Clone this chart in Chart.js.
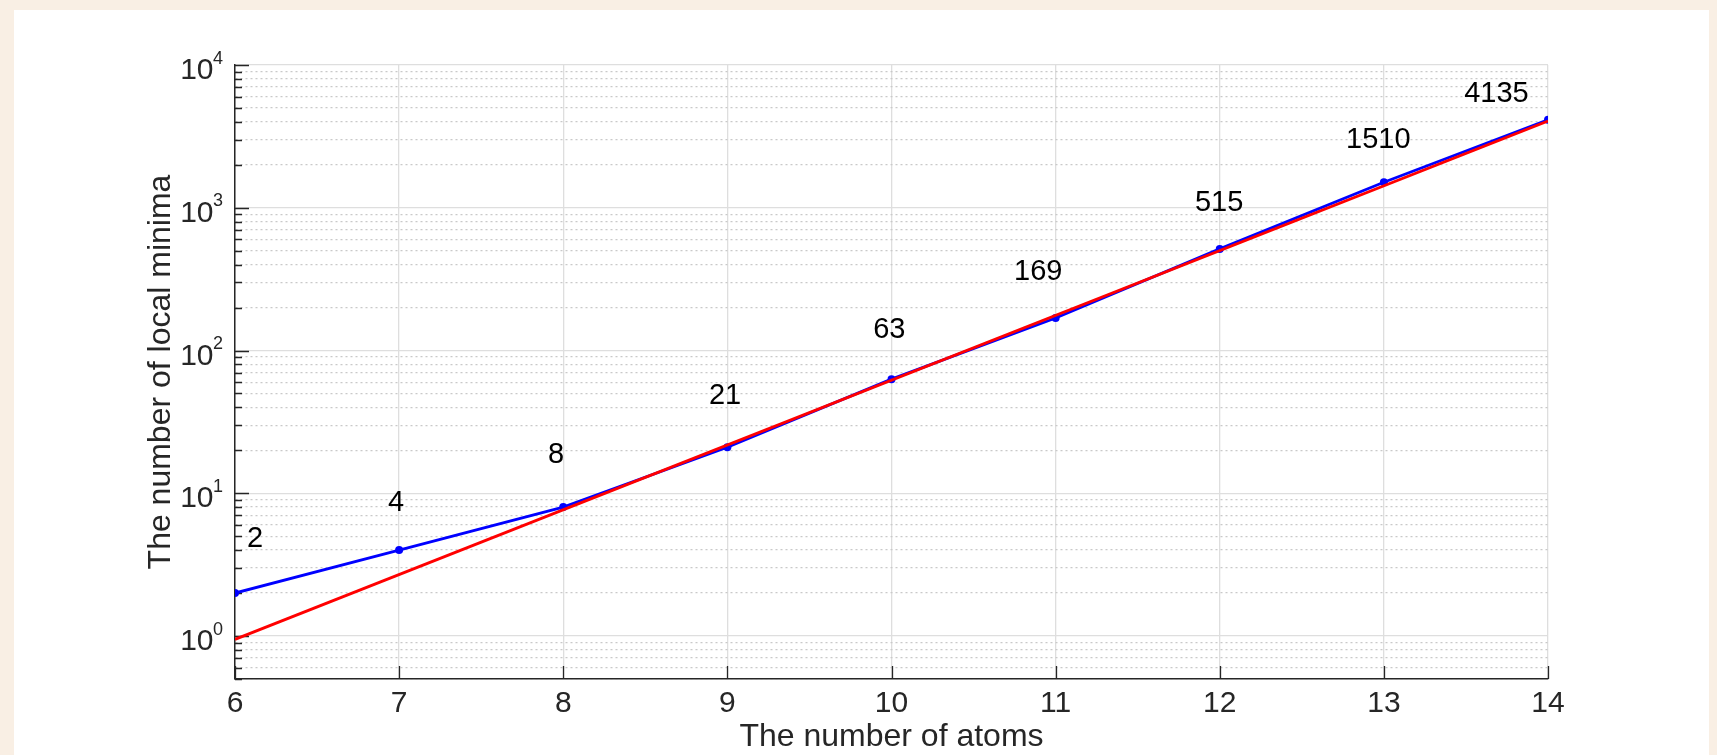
<!DOCTYPE html>
<html>
<head>
<meta charset="utf-8">
<script src="https://cdn.jsdelivr.net/npm/chart.js@4.4.1/dist/chart.umd.min.js"></script>
<style>
  html, body { margin: 0; padding: 0; background: #f9efe4; overflow: hidden; }
  #wrap { width: 1717px; height: 755px; }
</style>
</head>
<body>
<div id="wrap"><canvas id="chart" width="1717" height="755"></canvas></div>
<script>
// measured data (blue) and exponential fit (red)
const atoms = [6, 7, 8, 9, 10, 11, 12, 13, 14];
const minima = [2, 4, 8, 21, 63, 169, 515, 1510, 4135];
const fitX = [6, 14];
const fitY = [0.948, 4050];

// axis ticks
const xTicks = [6, 7, 8, 9, 10, 11, 12, 13, 14];
const yDecades = [0, 1, 2, 3, 4];
const yMantissas = [1, 2, 3, 4, 5, 6, 7, 8, 9];

// value labels, placed in data coordinates
const labelText = ['2', '4', '8', '21', '63', '169', '515', '1510', '4135'];
const labelX = [6.122, 6.982, 7.956, 8.986, 9.987, 10.894, 11.996, 12.966, 13.686];
const labelY = [4.77, 8.5, 18.6, 48.2, 139, 354, 1077, 2994, 6266];

const FONT = '"Liberation Sans", Arial, Helvetica, sans-serif';
const AXIS_COLOR = '#262626';

// y tick values: 0.5 .. 9 then every mantissa of each decade up to 10^4
const yTickVals = [0.5, 0.6, 0.7, 0.8, 0.9];
yDecades.forEach(e => {
  yMantissas.forEach(m => {
    const v = m * Math.pow(10, e);
    if (v <= 10000) yTickVals.push(v);
  });
});

const decor = {
  id: 'decor',
  beforeDraw(chart) {
    const ctx = chart.ctx;
    ctx.save();
    ctx.fillStyle = '#f9efe4';
    ctx.fillRect(0, 0, chart.width, chart.height);
    ctx.fillStyle = '#ffffff';
    ctx.fillRect(14, 10, 1695, chart.height - 10);
    ctx.restore();
  },
  beforeDatasetsDraw(chart) {
    // inward tick marks
    const ctx = chart.ctx;
    const area = chart.chartArea;
    const xs = chart.scales.x, ys = chart.scales.y;
    ctx.save();
    ctx.strokeStyle = AXIS_COLOR;
    ctx.lineWidth = 1.3;
    ctx.beginPath();
    ys.ticks.forEach(t => {
      const py = Math.round(ys.getPixelForValue(t.value)) + 0.5;
      const len = t.major ? 14 : 7;
      ctx.moveTo(area.left, py);
      ctx.lineTo(area.left + len, py);
    });
    xTicks.forEach(v => {
      const px = Math.round(xs.getPixelForValue(v)) + 0.5;
      ctx.moveTo(px, area.bottom);
      ctx.lineTo(px, area.bottom - 13);
    });
    ctx.stroke();
    ctx.restore();
  },
  afterDraw(chart) {
    const ctx = chart.ctx;
    const area = chart.chartArea;
    const xs = chart.scales.x, ys = chart.scales.y;
    ctx.save();
    ctx.fillStyle = AXIS_COLOR;

    // y tick labels 10^n
    yDecades.forEach(e => {
      const py = ys.getPixelForValue(Math.pow(10, e));
      ctx.font = '30px ' + FONT;
      ctx.textAlign = 'right';
      ctx.textBaseline = 'alphabetic';
      ctx.fillText('10', area.left - 21.5, py + 14);
      ctx.font = '18px ' + FONT;
      ctx.textAlign = 'left';
      ctx.fillText(String(e), area.left - 22, py - 1.5);
    });

    // x tick labels
    ctx.font = '30px ' + FONT;
    ctx.textAlign = 'center';
    ctx.textBaseline = 'alphabetic';
    xTicks.forEach(v => {
      ctx.fillText(String(v), xs.getPixelForValue(v), area.bottom + 32.5);
    });

    // axis titles
    ctx.font = '32px ' + FONT;
    ctx.fillText('The number of atoms', (area.left + area.right) / 2, 746);
    ctx.save();
    ctx.translate(169.5, (area.top + area.bottom) / 2);
    ctx.rotate(-Math.PI / 2);
    ctx.fillText('The number of local minima', 0, 0);
    ctx.restore();

    // value labels
    ctx.fillStyle = '#000000';
    ctx.font = '29px ' + FONT;
    ctx.textAlign = 'center';
    ctx.textBaseline = 'middle';
    labelText.forEach((t, i) => {
      ctx.fillText(t, xs.getPixelForValue(labelX[i]), ys.getPixelForValue(labelY[i]));
    });
    ctx.restore();
  }
};

new Chart(document.getElementById('chart'), {
  type: 'line',
  data: {
    datasets: [
      {
        label: 'data',
        data: atoms.map((a, i) => ({ x: a, y: minima[i] })),
        borderColor: '#0000ff',
        backgroundColor: '#0000ff',
        borderWidth: 2.8,
        pointRadius: 4,
        pointBorderWidth: 0,
        pointBackgroundColor: '#0000ff',
        tension: 0,
        order: 2
      },
      {
        label: 'fit',
        data: fitX.map((a, i) => ({ x: a, y: fitY[i] })),
        borderColor: '#ff0000',
        borderWidth: 2.8,
        pointRadius: 0,
        tension: 0,
        order: 1
      }
    ]
  },
  options: {
    responsive: false,
    animation: false,
    events: [],
    layout: { padding: { left: 235, top: 65, right: 169, bottom: 76 } },
    plugins: { legend: { display: false }, tooltip: { enabled: false } },
    scales: {
      x: {
        type: 'linear',
        min: 6,
        max: 14,
        ticks: { display: false, stepSize: 1 },
        grid: { color: '#dedede', lineWidth: 1.3, drawTicks: false },
        border: { display: true, color: AXIS_COLOR, width: 1.5 }
      },
      y: {
        type: 'logarithmic',
        min: 0.5,
        max: 10000,
        afterBuildTicks: s => {
          s.ticks = yTickVals.map(v => ({ value: v, major: yDecades.some(e => Math.abs(v - Math.pow(10, e)) < 1e-9) }));
        },
        ticks: { display: false },
        grid: {
          drawTicks: false,
          lineWidth: 1.3,
          color: c => (c.tick && !c.tick.major) ? '#c9c9c9' : '#dedede'
        },
        border: {
          display: true,
          color: AXIS_COLOR,
          width: 1.5,
          dash: c => (c.tick && !c.tick.major) ? [2, 3] : []
        }
      }
    }
  },
  plugins: [decor]
});
</script>
</body>
</html>
